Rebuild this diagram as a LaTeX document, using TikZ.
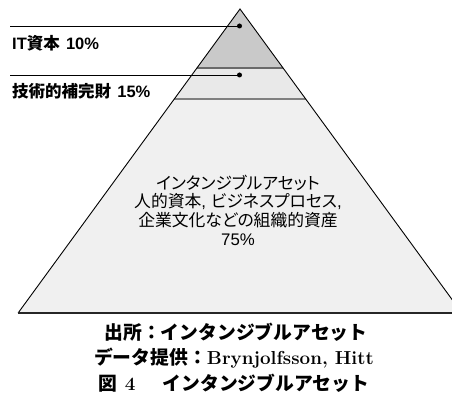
\documentclass[tikz,border=0pt]{standalone}
\usepackage{fontspec}
\newfontfamily\cjk{Noto Sans CJK JP}
\newfontfamily\cjkp[RawFeature=+palt]{Noto Sans CJK JP}
\newfontfamily\arial{Liberation Sans}
\definecolor{topfill}{HTML}{C9C9C9}
\definecolor{midfill}{HTML}{E9E9E9}
\definecolor{botfill}{HTML}{F0F0F0}
\definecolor{bandline}{HTML}{6A6A6A}
\tikzset{
  edge/.style={draw=black, line width=0.9pt},
  bandA/.style={draw=bandline, line width=1.2pt},
  bandB/.style={draw=bandline!85, line width=1.8pt},
  baseedge/.style={draw=black!85, line width=1.5pt},
  leader/.style={draw=black, line width=0.9pt},
  dot/.style={circle, fill=black, inner sep=0pt, minimum size=5pt},
  lab/.style={anchor=west, inner sep=0pt, font=\fontsize{16.5}{18}\selectfont\bfseries},
  midtext/.style={align=center, inner sep=0pt, font=\fontsize{16.8}{18.7}\selectfont},
  captext/.style={inner sep=0pt, font=\fontsize{18.8}{20}\selectfont\bfseries}
}
\begin{document}
\begin{tikzpicture}[x=1pt, y=-1pt]
\useasboundingbox (0,0) rectangle (452,395);
\clip (0,0) rectangle (452,395);
\coordinate (apex) at (240,9);
\coordinate (l1) at (196.9,68);
\coordinate (r1) at (283.1,68);
\coordinate (l2) at (174.3,99);
\coordinate (r2) at (305.7,99);
\coordinate (bl) at (18.1,313);
\coordinate (br) at (461.9,313);
\fill[topfill] (apex) -- (l1) -- (r1) -- cycle;
\fill[midfill] (l1) -- (l2) -- (r2) -- (r1) -- cycle;
\fill[botfill] (l2) -- (bl) -- (br) -- (r2) -- cycle;
\draw[bandA] (l1) -- (r1);
\draw[bandB] (l2) -- (r2);
\draw[edge] (bl) -- (apex) -- (br);
\draw[baseedge] (bl) -- (br);
% leaders and dots
\node[dot] (d1) at (239.5,26) {};
\node[dot] (d2) at (239.5,75) {};
\coordinate (s1) at (10,26);
\coordinate (s2) at (10,75);
\draw[leader] (s1) -- (d1.center);
\draw[leader] (s2) -- (d2.center);
% labels
\node[lab] (lab1) at (12,43) {{\arial IT}{\cjk 資本} {\arial 10\%}};
\node[lab] (lab2) at (12,91) {{\cjk 技術的補完財} {\arial 15\%}};
% middle text
\node[midtext] (mid) at (238,210) {{\cjkp インタンジブルアセット}\\{\cjkp 人的資本}{\arial ,} {\cjkp ビジネスプロセス}{\arial ,}\\{\cjkp 企業文化などの組織的資産}\\{\arial 75\%}};
% caption
\node[captext] (cap1) at (236,332) {{\cjk 出所：インタンジブルアセット}};
\node[captext] (cap2) at (234,358) {{\cjk データ提供：}Brynjolfsson, Hitt};
\node[captext] (cap3) at (234,383) {{\cjk 図}\ 4\hspace{1.45em}{\cjk インタンジブルアセット}};
\end{tikzpicture}
\end{document}
